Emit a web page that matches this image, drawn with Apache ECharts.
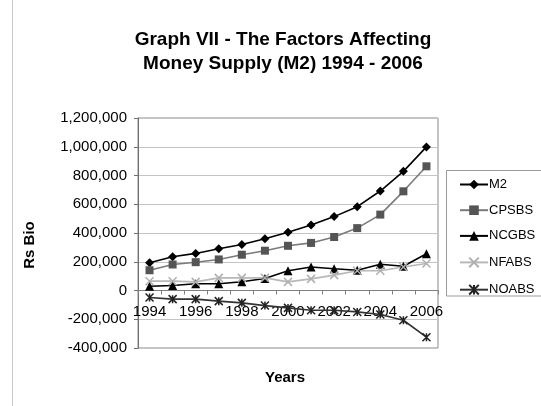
<!DOCTYPE html>
<html>
<head>
<meta charset="utf-8">
<script src="https://cdn.jsdelivr.net/npm/echarts@6/dist/echarts.min.js"></script>
<style>
html,body{margin:0;padding:0;background:#fff;}
#c{width:541px;height:406px;}
</style>
</head>
<body>
<div id="c"></div>
<script>
const years = ['1994','1995','1996','1997','1998','1999','2000','2001','2002','2003','2004','2005','2006'];
const m2    = [193000, 235000, 258000, 290000, 320000, 360000, 405000, 455000, 514000, 583000, 692000, 829000, 999000];
const cpsbs = [141000, 181000, 197000, 216000, 249000, 277000, 311000, 331000, 372000, 434000, 528000, 690000, 864000];
const ncgbs = [30000, 35000, 47000, 47000, 61000, 84000, 137000, 163000, 151000, 141000, 183000, 169000, 256000];
const nfabs = [65000, 65000, 60000, 88000, 88000, 88000, 60000, 81000, 107000, 137000, 137000, 163000, 188000];
const noabs = [-49000, -60000, -60000, -74000, -86000, -105000, -121000, -137000, -137000, -149000, -167000, -207000, -325000];
const yTicks = { min: -400000, max: 1200000, step: 200000 };

const font = 'Arial, "Liberation Sans", sans-serif';
const chart = echarts.init(document.getElementById('c'), null, { renderer: 'canvas' });

function fmt(v) {
  const s = Math.abs(v).toString().replace(/\B(?=(\d{3})+(?!\d))/g, ',');
  return (v < 0 ? '-' : '') + s;
}

const gridTop = 118, gridBottomPx = 348;
// distance of value 0 above the plot bottom, from the axis range
const zeroOffset = -(gridBottomPx - gridTop) * (0 - yTicks.min) / (yTicks.max - yTicks.min);

const xPath = 'path://M0,0L10,10M10,0L0,10';
const starPath = 'path://M0,0L10,10M10,0L0,10M5,0L5,10';

chart.setOption({
  animation: false,
  backgroundColor: '#fff',
  title: {
    text: 'Graph VII - The Factors Affecting\nMoney Supply (M2) 1994 - 2006',
    left: 283,
    textAlign: 'center',
    top: 28,
    padding: 0,
    textStyle: { fontFamily: font, fontSize: 19, fontWeight: 'bold', color: '#000', lineHeight: 24 }
  },
  grid: { left: 138, right: 103, top: gridTop, bottom: 406 - gridBottomPx, show: true, borderColor: '#8a8a8a', borderWidth: 1, backgroundColor: 'transparent' },
  legend: {
    orient: 'vertical',
    left: 459,
    top: 178,
    padding: 0,
    itemWidth: 28,
    itemHeight: 12,
    itemGap: 12.7,
    textStyle: { fontFamily: font, fontSize: 13, color: '#000', padding: [0, 0, 0, -4] },
    data: ['M2', 'CPSBS', 'NCGBS', 'NFABS', 'NOABS']
  },
  xAxis: {
    type: 'category',
    data: years,
    boundaryGap: true,
    position: 'bottom',
    offset: zeroOffset,
    axisLine: { onZero: false, lineStyle: { color: '#808080', width: 1 } },
    axisTick: { show: true, interval: 0, length: 4, lineStyle: { color: '#808080' } },
    axisLabel: { interval: 1, fontFamily: font, fontSize: 15, color: '#000', margin: 14 },
    splitLine: { show: false }
  },
  yAxis: {
    type: 'value',
    min: yTicks.min,
    max: yTicks.max,
    interval: yTicks.step,
    axisLine: { show: true, lineStyle: { color: '#707070', width: 1 } },
    axisTick: { show: true, length: 4, lineStyle: { color: '#707070' } },
    axisLabel: { fontFamily: font, fontSize: 15, color: '#000', margin: 11, formatter: fmt },
    splitLine: { show: true, lineStyle: { color: '#c4c4c4', width: 1 } }
  },
  graphic: [
    { type: 'line', shape: { x1: 12.5, y1: 0, x2: 12.5, y2: 406 }, style: { stroke: '#c8c8c8', lineWidth: 1 } },
    { type: 'rect', shape: { x: 446.5, y: 170.5, width: 120, height: 125.5 }, style: { fill: 'none', stroke: '#9a9a9a', lineWidth: 1 } },
    { type: 'text', x: 30, y: 245, rotation: Math.PI / 2, style: { text: 'Rs Bio', font: 'bold 15px ' + font, fill: '#000', align: 'center', verticalAlign: 'middle' } },
    { type: 'text', x: 285, y: 378, style: { text: 'Years', font: 'bold 15px ' + font, fill: '#000', align: 'center', verticalAlign: 'middle' } }
  ],
  series: [
    { name: 'M2', type: 'line', data: m2, symbol: 'diamond', symbolSize: 9,
      lineStyle: { color: '#000', width: 1.6 }, itemStyle: { color: '#000' } },
    { name: 'CPSBS', type: 'line', data: cpsbs, symbol: 'rect', symbolSize: 8,
      lineStyle: { color: '#7a7a7a', width: 1.6 }, itemStyle: { color: '#555' } },
    { name: 'NCGBS', type: 'line', data: ncgbs, symbol: 'triangle', symbolSize: 9,
      lineStyle: { color: '#000', width: 1.6 }, itemStyle: { color: '#000' } },
    { name: 'NFABS', type: 'line', data: nfabs, symbol: xPath, symbolSize: 8,
      lineStyle: { color: '#b8b8b8', width: 1.6 }, itemStyle: { color: 'none', borderColor: '#b0b0b0', borderWidth: 1.5 } },
    { name: 'NOABS', type: 'line', data: noabs, symbol: starPath, symbolSize: 8,
      lineStyle: { color: '#333', width: 1.6 }, itemStyle: { color: 'none', borderColor: '#222', borderWidth: 1.5 } }
  ]
});
</script>
</body>
</html>
